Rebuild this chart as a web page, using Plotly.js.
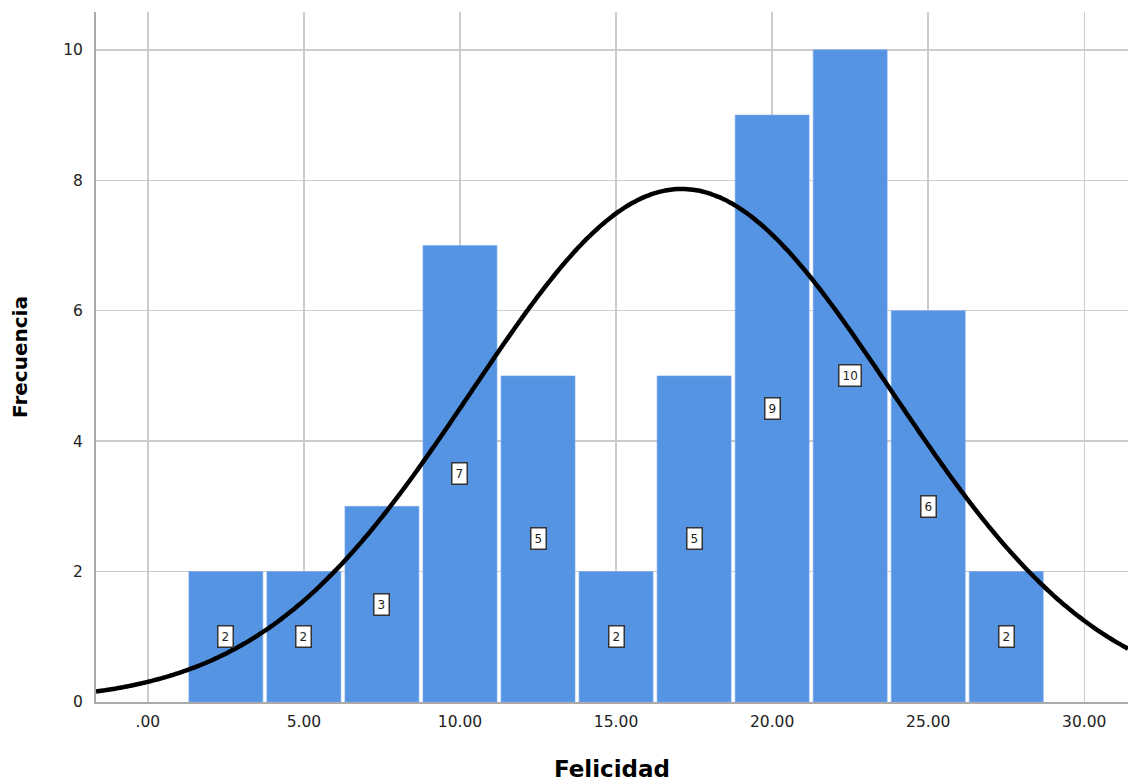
<!DOCTYPE html>
<html>
<head>
<meta charset="utf-8">
<script src="https://cdn.plot.ly/plotly-3.0.1.min.js"></script>
<style>html,body{margin:0;padding:0;background:#fff}#chart{width:1128px;height:783px}</style>
</head>
<body>
<div id="chart"></div>
<script>
// Histogram bins (centres) and frequencies
const binCenters = [2.5, 5, 7.5, 10, 12.5, 15, 17.5, 20, 22.5, 25, 27.5];
const frequencies = [2, 2, 3, 7, 5, 2, 5, 9, 10, 6, 2];
const binWidth = 2.5;
// Normal curve parameters
const curveMean = 17.1;
const curveStdDev = 6.72;
const xTickValues = [0, 5, 10, 15, 20, 25, 30];
const xTickLabels = [".00", "5.00", "10.00", "15.00", "20.00", "25.00", "30.00"];
const yTickValues = [0, 2, 4, 6, 8, 10];

const N = frequencies.reduce((a, b) => a + b, 0);
const xMin = -1.66, xMax = 31.4;
const curveX = [], curveY = [];
const steps = 300;
for (let i = 0; i <= steps; i++) {
  const x = xMin + (xMax - xMin) * i / steps;
  const z = (x - curveMean) / curveStdDev;
  curveX.push(x);
  curveY.push(N * binWidth / (curveStdDev * Math.sqrt(2 * Math.PI)) * Math.exp(-0.5 * z * z));
}

const bars = {
  type: 'bar',
  x: binCenters,
  y: frequencies,
  width: binWidth * 0.948,
  marker: {color: '#5593e3', line: {color: '#7aaaf0', width: 0.6}},
  hoverinfo: 'x+y',
  showlegend: false
};
const curve = {
  type: 'scatter',
  mode: 'lines',
  x: curveX,
  y: curveY,
  line: {color: '#000000', width: 4.5, shape: 'spline'},
  hoverinfo: 'skip',
  showlegend: false
};

const annotations = binCenters.map((c, i) => ({
  x: c, y: frequencies[i] / 2, xref: 'x', yref: 'y',
  text: String(frequencies[i]), showarrow: false,
  font: {family: 'DejaVu Sans, sans-serif', size: 12, color: '#222'},
  bgcolor: '#ffffff', bordercolor: '#333333', borderwidth: 1.5, borderpad: 3
}));

const layout = {
  width: 1128, height: 783,
  margin: {l: 96, r: 0, t: 12, b: 81},
  paper_bgcolor: '#ffffff', plot_bgcolor: '#ffffff',
  font: {family: 'DejaVu Sans, sans-serif', color: '#000'},
  xaxis: {
    range: [xMin, xMax],
    tickvals: xTickValues, ticktext: xTickLabels,
    tickfont: {size: 15.5, color: '#222'},
    showgrid: true, gridcolor: '#cccccc', gridwidth: 1.5,
    zeroline: false, showline: true, linecolor: '#aaaaaa', linewidth: 2,
    ticks: 'outside', ticklen: 4, tickcolor: 'rgba(0,0,0,0)',
    title: {text: 'Felicidad', font: {size: 23, color: '#000', weight: 'bold'}, standoff: 31}
  },
  yaxis: {
    range: [0, 10.58],
    tickvals: yTickValues,
    tickfont: {size: 15.5, color: '#222'},
    showgrid: true, gridcolor: '#cccccc', gridwidth: 1.5,
    zeroline: false, showline: true, linecolor: '#aaaaaa', linewidth: 2,
    ticks: 'outside', ticklen: 8, tickcolor: 'rgba(0,0,0,0)',
    title: {text: 'Frecuencia', font: {size: 20, color: '#000', weight: 'bold'}, standoff: 30}
  },
  bargap: 0,
  annotations: annotations
};

Plotly.newPlot('chart', [bars, curve], layout, {displayModeBar: false, staticPlot: true});
</script>
</body>
</html>
